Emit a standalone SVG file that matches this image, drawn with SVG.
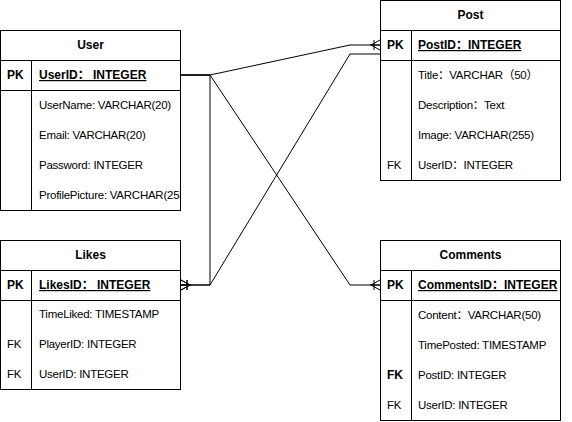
<svg xmlns="http://www.w3.org/2000/svg" width="572" height="422" viewBox="0 0 572 422">
<defs>
<style>
.box{fill:#fff;stroke:#000;stroke-width:1}
.ln{stroke:#000;stroke-width:1;fill:none}
text{font-family:"Liberation Sans","Noto Sans CJK SC",Arial,sans-serif;font-size:11.5px;letter-spacing:-0.25px;fill:#000}
.t{font-weight:bold;text-anchor:middle;font-size:12px;letter-spacing:0}
.b{font-weight:bold;font-size:12px;letter-spacing:0}
.u{font-weight:bold;text-decoration:underline;font-size:12px;letter-spacing:0}
.conn{stroke:#000;stroke-width:1;fill:none;marker-end:url(#many)}
</style>
<marker id="many" viewBox="0 0 10 10" refX="10" refY="5" markerWidth="10" markerHeight="10" markerUnits="userSpaceOnUse" orient="auto" overflow="visible">
<path d="M1,5 L10,0 M1,5 L10,10 M0,5 L10,5 M4,0 L4,10" stroke="#000" stroke-width="1" fill="none"/>
</marker>
<clipPath id="clipUser"><rect x="0" y="30" width="181" height="180"/></clipPath>
</defs>

<g id="connectors">
<path class="conn" d="M181,75 L210,75 L350,45 L380,45"/>
<path class="conn" d="M181,75 L210,75 L350,285 L380,285"/>
<path class="conn" d="M181,75 L210,75 L210,285 L181,285"/>
<path class="conn" d="M380,54 L350,54 L210,285 L181,285"/>
</g>

<g id="user">
<rect class="box" x="0.5" y="30.5" width="180" height="180"/>
<path class="ln" d="M0.5,60.5 H180.5 M0.5,90.5 H180.5 M31.5,60.5 V210.5"/>
<text class="t" x="90.5" y="49">User</text>
<text class="b" x="7" y="79">PK</text>
<text class="u" x="39" y="79">UserID：  INTEGER</text>
<g clip-path="url(#clipUser)">
<text x="39" y="109">UserName: VARCHAR(20)</text>
<text x="39" y="139">Email: VARCHAR(20)</text>
<text x="39" y="169">Password: INTEGER</text>
<text x="39" y="199">ProfilePicture: VARCHAR(255)</text>
</g>
</g>

<g id="post">
<rect class="box" x="380.5" y="0.5" width="180" height="180"/>
<path class="ln" d="M380.5,30.5 H560.5 M380.5,60.5 H560.5 M411.5,30.5 V180.5"/>
<text class="t" x="470.5" y="19">Post</text>
<text class="b" x="387" y="49">PK</text>
<text class="u" x="418" y="49">PostID：INTEGER</text>
<text x="418" y="79">Title：VARCHAR（50）</text>
<text x="418" y="109">Description：Text</text>
<text x="418" y="139">Image: VARCHAR(255)</text>
<text x="387" y="169">FK</text>
<text x="418" y="169">UserID：INTEGER</text>
</g>

<g id="likes">
<rect class="box" x="0.5" y="240.5" width="180" height="149"/>
<path class="ln" d="M0.5,270.5 H180.5 M0.5,300.5 H180.5 M31.5,270.5 V389.5"/>
<text class="t" x="90.5" y="259">Likes</text>
<text class="b" x="7" y="289">PK</text>
<text class="u" x="39" y="289">LikesID：  INTEGER</text>
<text x="39" y="318">TimeLiked: TIMESTAMP</text>
<text x="7" y="348">FK</text>
<text x="39" y="348">PlayerID: INTEGER</text>
<text x="7" y="378">FK</text>
<text x="39" y="378">UserID: INTEGER</text>
</g>

<g id="comments">
<rect class="box" x="380.5" y="240.5" width="180" height="180"/>
<path class="ln" d="M380.5,270.5 H560.5 M380.5,300.5 H560.5 M411.5,270.5 V420.5"/>
<text class="t" x="470.5" y="259">Comments</text>
<text class="b" x="387" y="289">PK</text>
<text class="u" x="418" y="289">CommentsID：INTEGER</text>
<text x="418" y="319">Content：VARCHAR(50)</text>
<text x="418" y="349">TimePosted: TIMESTAMP</text>
<text class="b" x="387" y="379">FK</text>
<text x="418" y="379">PostID: INTEGER</text>
<text x="387" y="409">FK</text>
<text x="418" y="409">UserID: INTEGER</text>
</g>
</svg>
